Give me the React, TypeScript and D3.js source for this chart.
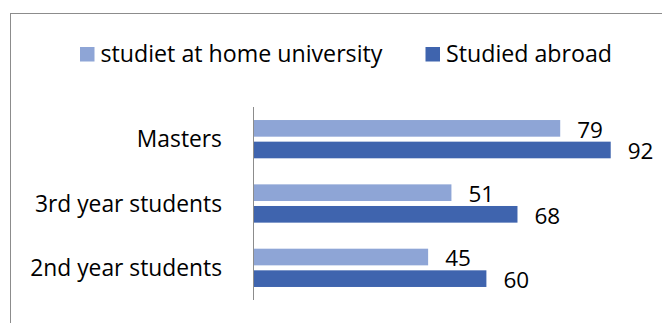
import React from "react";
import * as d3 from "d3";

const categories = ["Masters", "3rd year students", "2nd year students"];
const seriesNames = ["studiet at home university", "Studied abroad"];
const homeValues = [79, 51, 45];
const abroadValues = [92, 68, 60];
const seriesColors = ["#8EA5D6", "#3F64AE"];

const W = 662;
const H = 323;
const FONT = "'Open Sans', 'Liberation Sans', sans-serif";

export default function App() {
  const values = [homeValues, abroadValues];
  const y = d3
    .scaleBand<string>()
    .domain(categories)
    .range([107, 300])
    .paddingInner(0.405)
    .paddingOuter(0.2025);
  const ys = d3
    .scaleBand<number>()
    .domain([0, 1])
    .range([0, y.bandwidth()])
    .paddingInner(0.23)
    .paddingOuter(0);
  const x = d3.scaleLinear().domain([0, 100]).range([253.3, 253.3 + 388.5]);

  const legendItems = [
    { sq: 80, tx: 100.5 },
    { sq: 425.5, tx: 446 },
  ];

  return (
    <div style={{ position: "fixed", left: 0, top: 0 }}>
      <svg width={W} height={H} style={{ display: "block", background: "#fff" }}>
        <rect x={10.5} y={13.5} width={800} height={400} fill="#fff" stroke="#8c8c8c" strokeWidth={1} />
        {seriesNames.map((name, i) => (
          <g key={name}>
            <rect x={legendItems[i].sq} y={47} width={14.5} height={14.5} fill={seriesColors[i]} />
            <text x={legendItems[i].tx} y={61.5} fontFamily={FONT} fontSize={23.2} fill="#000">
              {name}
            </text>
          </g>
        ))}
        {categories.map((c, ci) => (
          <g key={c}>
            <text
              x={222}
              y={(y(c) as number) + y.bandwidth() / 2 + 8}
              textAnchor="end"
              fontFamily={FONT}
              fontSize={22.8}
              fill="#000"
            >
              {c}
            </text>
            {values.map((vals, si) => {
              const by = (y(c) as number) + (ys(si) as number);
              const v = vals[ci];
              return (
                <g key={si}>
                  <rect x={x(0)} y={by} width={x(v) - x(0)} height={ys.bandwidth()} fill={seriesColors[si]} />
                  <text
                    x={x(v) + 17}
                    y={by + ys.bandwidth() / 2 + 9.3}
                    fontFamily={FONT}
                    fontSize={22.5}
                    fill="#000"
                  >
                    {v}
                  </text>
                </g>
              );
            })}
          </g>
        ))}
        <line x1={253.5} x2={253.5} y1={107} y2={300} stroke="#8c8c8c" strokeWidth={1} />
      </svg>
    </div>
  );
}
